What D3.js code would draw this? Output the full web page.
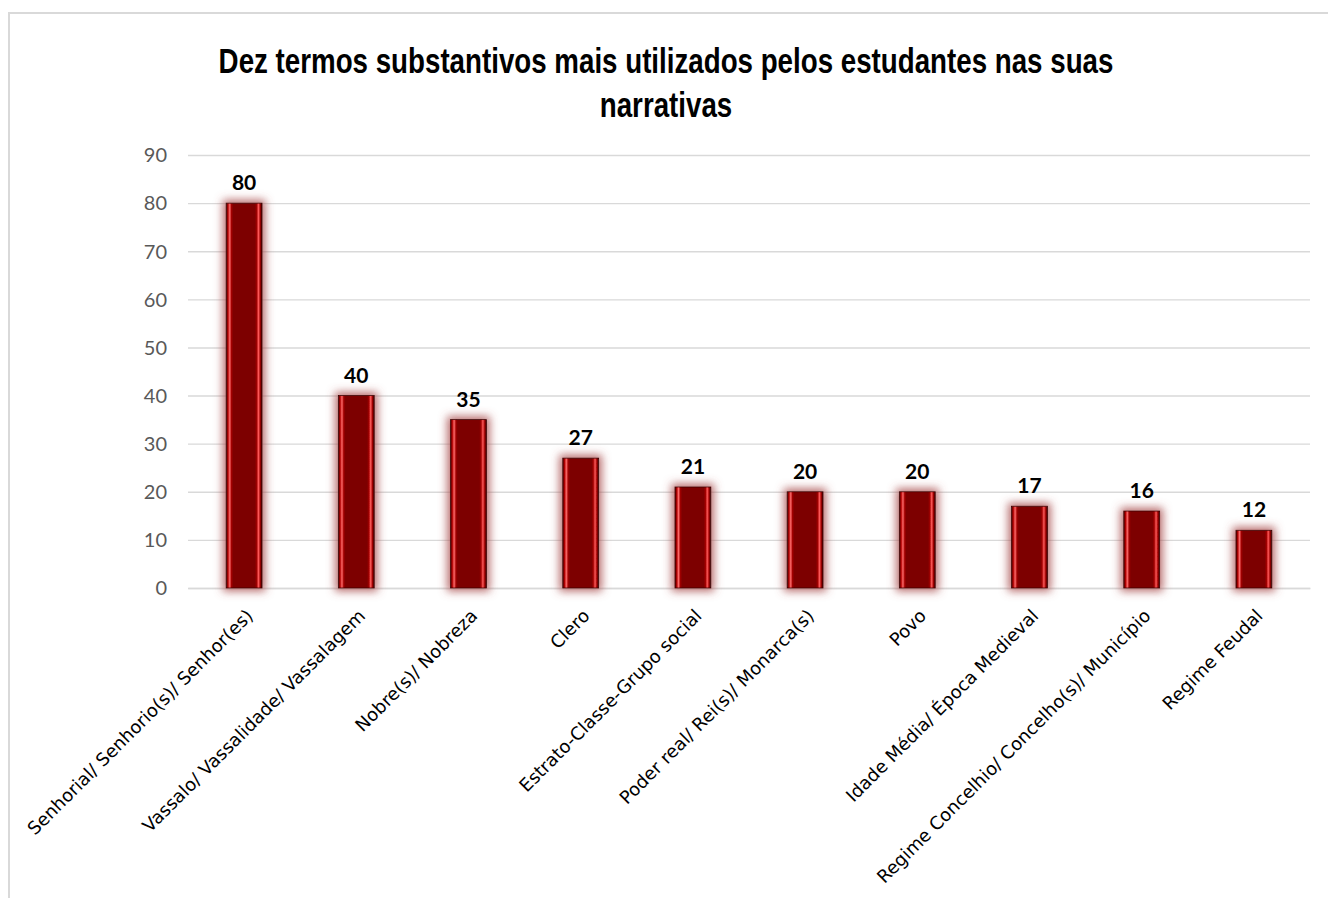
<!DOCTYPE html>
<html>
<head>
<meta charset="utf-8">
<script src="https://cdn.jsdelivr.net/npm/d3@7"></script>
<style>
  html, body { margin: 0; padding: 0; background: #fff; }
  #graph { width: 1328px; height: 898px; }
</style>
</head>
<body>
<div id="graph"></div>
<script>
const CATEGORIES = [
        'Senhorial/ Senhorio(s)/ Senhor(es)',
        'Vassalo/ Vassalidade/ Vassalagem',
        'Nobre(s)/ Nobreza',
        'Clero',
        'Estrato-Classe-Grupo social',
        'Poder real/ Rei(s)/ Monarca(s)',
        'Povo',
        'Idade Média/ Época Medieval',
        'Regime Concelhio/ Concelho(s)/ Município',
        'Regime Feudal'
      ],
      VALUES = [80, 40, 35, 27, 21, 20, 20, 17, 16, 12],
      Y_TICKS = [0, 10, 20, 30, 40, 50, 60, 70, 80, 90],
      TITLE_LINES = [
        'Dez termos substantivos mais utilizados pelos estudantes nas suas',
        'narrativas'
      ]

const SIZE = Object.freeze({
        WIDTH: 1328,
        HEIGHT: 898,
        LEFT: 188,
        RIGHT: 1310,
        TOP: 155,
        BOTTOM: 588,
        TITLE_WIDTH: 895
      })

const dataset = CATEGORIES.map((c, i) => ({ term: c, value: VALUES[i] }))

const svg = d3.select('#graph')
  .append('svg')
  .attr('width', SIZE.WIDTH)
  .attr('height', SIZE.HEIGHT)

const defs = svg.append('defs')

// bevel look of the bars
const grad = defs.append('linearGradient')
  .attr('id', 'bevel')
  .attr('x1', '0%').attr('x2', '100%')
  .attr('y1', '0%').attr('y2', '0%')
const stops = [
  [0, '#4a0000'], [0.05, '#b00000'], [0.1, '#ff6b6b'], [0.15, '#a00000'],
  [0.2, '#7d0000'], [0.8, '#7d0000'], [0.85, '#a00000'], [0.9, '#ff5a5a'],
  [0.95, '#a00000'], [1, '#3a0000']
]
grad.selectAll('stop')
  .data(stops)
  .enter()
  .append('stop')
  .attr('offset', d => d[0])
  .attr('stop-color', d => d[1])

const glow = defs.append('filter')
  .attr('id', 'glow')
  .attr('x', '-60%').attr('y', '-30%')
  .attr('width', '220%').attr('height', '160%')
glow.append('feMorphology')
  .attr('in', 'SourceAlpha')
  .attr('operator', 'dilate')
  .attr('radius', 3)
  .attr('result', 'fat')
glow.append('feGaussianBlur')
  .attr('in', 'fat')
  .attr('stdDeviation', 4)
  .attr('result', 'blur')
glow.append('feFlood')
  .attr('flood-color', '#a84c4c')
  .attr('flood-opacity', 0.8)
glow.append('feComposite')
  .attr('in2', 'blur')
  .attr('operator', 'in')
  .attr('result', 'halo')
const merge = glow.append('feMerge')
merge.append('feMergeNode').attr('in', 'halo')
merge.append('feMergeNode').attr('in', 'SourceGraphic')

// chart frame
svg.append('path')
  .attr('d', `M9,${SIZE.HEIGHT} V13 H${SIZE.WIDTH}`)
  .attr('fill', 'none')
  .attr('stroke', '#d9d9d9')
  .attr('stroke-width', 2)

const xScale = d3.scaleBand()
        .domain(CATEGORIES)
        .range([SIZE.LEFT, SIZE.RIGHT])
        .paddingInner(0.68)
        .paddingOuter(0.34),
      yScale = d3.scaleLinear()
        .domain([0, 90])
        .range([SIZE.BOTTOM, SIZE.TOP])

// title, squeezed to the narrow look of the original
const titles = svg.append('g')
  .selectAll('text')
  .data(TITLE_LINES)
  .enter()
  .append('text')
  .attr('text-anchor', 'middle')
  .style('font-family', '"Liberation Sans", Arial, sans-serif')
  .style('font-weight', 'bold')
  .style('font-size', '35px')
  .style('fill', '#000')
  .text(d => d)
const squeeze = SIZE.TITLE_WIDTH / titles.node().getComputedTextLength()
titles.attr('transform', (d, i) => `translate(666, ${73 + 44 * i}) scale(${squeeze}, 1)`)

// y axis with gridlines
const yAxis = d3.axisLeft(yScale)
  .tickValues(Y_TICKS)
  .tickSize(-(SIZE.RIGHT - SIZE.LEFT))
  .tickPadding(21)

svg.append('g')
  .attr('id', 'y-axis')
  .attr('transform', `translate(${SIZE.LEFT}, 0)`)
  .call(yAxis)
  .call(g => g.select('.domain').remove())
  .call(g => g.selectAll('.tick line')
    .attr('stroke', '#d9d9d9')
    .attr('stroke-width', 1.4))
  .call(g => g.selectAll('.tick text')
    .attr('dy', '0.34em')
    .style('font-family', 'Lato, "Open Sans", sans-serif')
    .style('font-size', '20px')
    .attr('fill', '#595959'))

// x axis
const xAxis = d3.axisBottom(xScale)
  .tickSize(0)
  .tickPadding(0)

svg.append('g')
  .attr('id', 'x-axis')
  .attr('transform', `translate(0, ${SIZE.BOTTOM})`)
  .call(xAxis)
  .call(g => g.select('.domain')
    .attr('stroke', '#d9d9d9')
    .attr('stroke-width', 1.4))
  .call(g => g.selectAll('.tick text')
    .attr('text-anchor', 'end')
    .attr('dy', 0)
    .attr('transform', 'translate(10, 29) rotate(-45)')
    .style('font-family', '"DejaVu Sans", sans-serif')
    .style('font-size', '18px')
    .attr('fill', '#000'))

// bars
svg.append('g')
  .selectAll('rect')
  .data(dataset)
  .enter()
  .append('rect')
  .attr('x', d => xScale(d.term))
  .attr('y', d => yScale(d.value))
  .attr('width', xScale.bandwidth())
  .attr('height', d => yScale(0) - yScale(d.value))
  .attr('fill', 'url(#bevel)')
  .attr('stroke', '#3a0000')
  .attr('stroke-width', 0.8)
  .attr('filter', 'url(#glow)')

// value labels
svg.append('g')
  .selectAll('text')
  .data(dataset)
  .enter()
  .append('text')
  .attr('x', d => xScale(d.term) + xScale.bandwidth() / 2)
  .attr('y', d => yScale(d.value) - 13)
  .attr('text-anchor', 'middle')
  .style('font-family', 'Lato, sans-serif')
  .style('font-weight', 'bold')
  .style('font-size', '21px')
  .style('fill', '#000')
  .text(d => d.value)
</script>
</body>
</html>
